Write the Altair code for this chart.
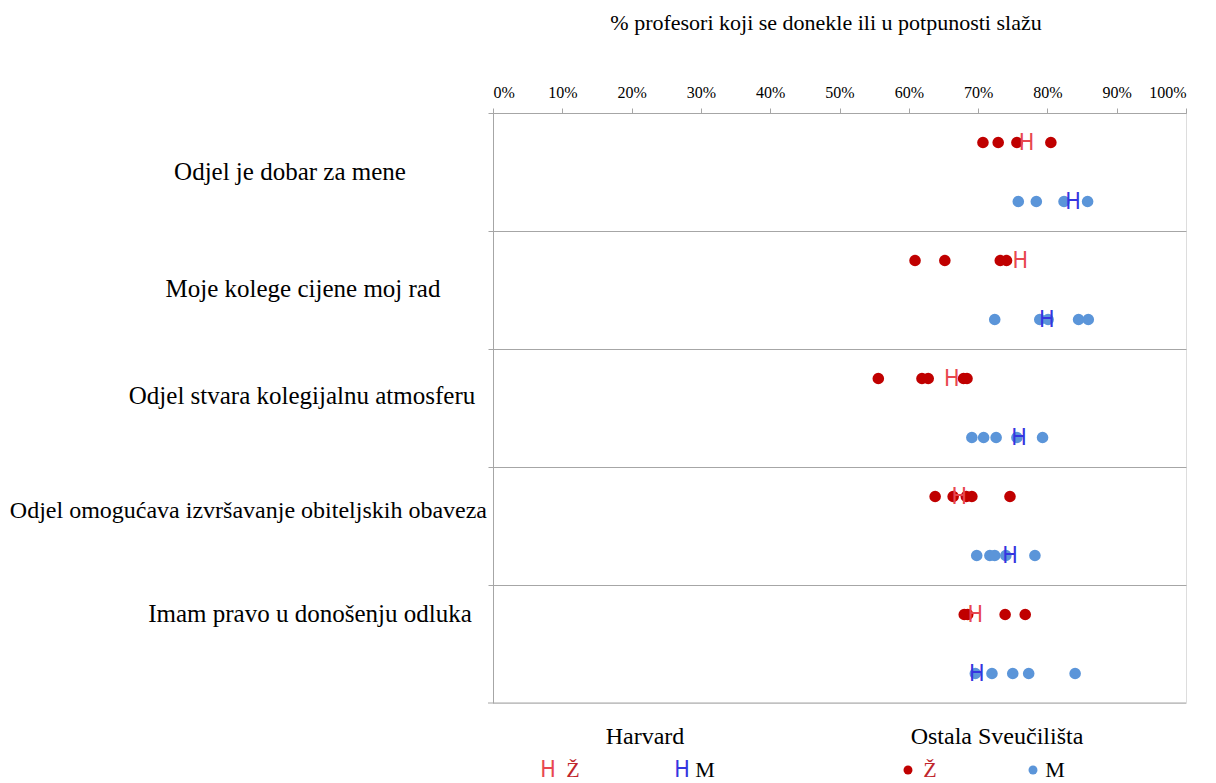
import altair as alt
import pandas as pd

categories = [
    "Odjel je dobar za mene",
    "Moje kolege cijene moj rad",
    "Odjel stvara kolegijalnu atmosferu",
    "Odjel omogućava izvršavanje obiteljskih obaveza",
    "Imam pravo u donošenju odluka",
]
groups = ["Ž", "M"]

# Ostala Sveučilišta (other universities), % agree
other_z = [
    [70.7, 72.9, 75.6, 80.5],
    [60.9, 65.2, 73.2, 74.1],
    [55.6, 61.9, 62.8, 67.9, 68.4],
    [63.8, 66.4, 68.3, 69.1, 74.6],
    [68.0, 68.5, 73.9, 76.8],
]
other_m = [
    [75.8, 78.4, 82.4, 85.8],
    [72.4, 78.9, 80.1, 84.5, 85.9],
    [69.1, 70.8, 72.6, 75.6, 79.3],
    [69.8, 71.7, 72.4, 74.0, 78.2],
    [69.6, 72.0, 75.0, 77.3, 84.0],
]
# Harvard
harvard_z = [77.0, 76.1, 66.2, 67.3, 69.6]
harvard_m = [83.7, 79.9, 75.9, 74.6, 69.8]

x_ticks = [0, 10, 20, 30, 40, 50, 60, 70, 80, 90, 100]
axis_title = "% profesori koji se donekle ili u potpunosti slažu"
legend_titles = ["Harvard", "Ostala Sveučilišta"]
legend_labels = ["Ž", "M", "Ž", "M"]

# ---- tables built from the arrays ----
dot_rows = []
for c, vals in zip(categories, other_z):
    for v in vals:
        dot_rows.append({"cat": c, "grp": "Ž", "v": v / 100})
for c, vals in zip(categories, other_m):
    for v in vals:
        dot_rows.append({"cat": c, "grp": "M", "v": v / 100})
dots = pd.DataFrame(dot_rows)

h_rows = []
for c, v in zip(categories, harvard_z):
    h_rows.append({"cat": c, "grp": "Ž", "v": v / 100})
for c, v in zip(categories, harvard_m):
    h_rows.append({"cat": c, "grp": "M", "v": v / 100})
hdf = pd.DataFrame(h_rows)

W, H = 693, 590
SERIF = "Liberation Serif"
HFONT = "Liberation Sans Narrow, DejaVu Sans Condensed, Liberation Sans"
GRID = "#A6A6A6"
RED_DOT = "#C00000"
BLUE_DOT = "#5B95D9"
RED_H = "#E8474F"
BLUE_H = "#3535E0"

xscale = alt.Scale(domain=[0, 1])
yscale = alt.Scale(domain=categories, paddingInner=0, paddingOuter=0)
yoffscale = alt.Scale(domain=groups, type="point", padding=0.5)

xaxis = alt.Axis(
    orient="top", values=[t / 100 for t in x_ticks], format=".0%", grid=False,
    tickSize=5, tickColor=GRID, domainColor=GRID, labelFont=SERIF,
    labelFontSize=16, labelColor="#000", labelPadding=8,
    title=axis_title, titleFont=SERIF, titleFontSize=22,
    titleFontWeight="normal", titleColor="#000", titlePadding=50,
    titleX=W / 2 - 14, titleAlign="center",
)
yaxis = alt.Axis(
    labels=False, title=None, ticks=True, tickSize=5, bandPosition=0,
    grid=True, gridColor=GRID, tickColor=GRID, domainColor=GRID,
)

X = alt.X("v:Q", scale=xscale, axis=xaxis)
Y = alt.Y("cat:N", scale=yscale, axis=yaxis, sort=categories)
YO = alt.YOffset("grp:N", scale=yoffscale, sort=groups)

layers = []
for g, col in [("Ž", RED_DOT), ("M", BLUE_DOT)]:
    layers.append(
        alt.Chart(dots).transform_filter(alt.datum.grp == g)
        .mark_circle(size=135, opacity=1, color=col)
        .encode(x=X, y=Y, yOffset=YO)
    )
for g, col in [("Ž", RED_H), ("M", BLUE_H)]:
    layers.append(
        alt.Chart(hdf).transform_filter(alt.datum.grp == g)
        .mark_text(text="H", font=HFONT, fontSize=23, baseline="middle", color=col)
        .encode(x=X, y=Y, yOffset=YO)
    )

# category labels (left side): layout offsets
label_dx = [-203, -190, -191, -6, -183]
label_dy = [0, -1, -12, -15, -30]
for i, c in enumerate(categories):
    long = len(c) > 40
    layers.append(
        alt.Chart(pd.DataFrame({"cat": [c]}))
        .mark_text(font=SERIF, fontSize=24 if long else 25, color="#000", baseline="middle",
                   align="right" if long else "center", dy=label_dy[i])
        .encode(y=Y, x=alt.value(label_dx[i]), text="cat:N")
    )

# bottom border line
layers.append(
    alt.Chart(pd.DataFrame({"a": [0]})).mark_rule(color=GRID, strokeWidth=1)
    .encode(x=alt.value(-5), x2=alt.value(W), y=alt.value(H))
)

# legend
def ltext(txt, x, y, color="#000", font=SERIF, size=24, align="center"):
    return (alt.Chart(pd.DataFrame({"t": [txt]}))
            .mark_text(font=font, fontSize=size, color=color, baseline="middle", align=align)
            .encode(x=alt.value(x), y=alt.value(y), text="t:N"))

ly1, ly2 = 624, 657
layers += [
    ltext(legend_titles[0], 152, ly1),
    ltext(legend_titles[1], 504, ly1),
    ltext("H", 55, ly2, RED_H, HFONT, 23),
    ltext(legend_labels[0], 80, ly2, "#C0262D", SERIF, 22),
    ltext("H", 189, ly2, BLUE_H, HFONT, 23),
    ltext(legend_labels[1], 212, ly2, "#000", SERIF, 22),
    alt.Chart(pd.DataFrame({"a": [0]})).mark_circle(size=80, opacity=1, color=RED_DOT)
    .encode(x=alt.value(415), y=alt.value(ly2)),
    ltext(legend_labels[2], 437, ly2, "#C0262D", SERIF, 22),
    alt.Chart(pd.DataFrame({"a": [0]})).mark_circle(size=80, opacity=1, color=BLUE_DOT)
    .encode(x=alt.value(540), y=alt.value(ly2)),
    ltext(legend_labels[3], 562, ly2, "#000", SERIF, 22),
]

chart = (
    alt.layer(*layers)
    .properties(width=W, height=H, autosize="none",
                padding={"left": 485, "top": 105, "right": 22, "bottom": 80})
    .configure_view(stroke=None)
    .configure(background="white")
)

chart.save("out.html", embed_options={"renderer": "svg", "actions": False})
